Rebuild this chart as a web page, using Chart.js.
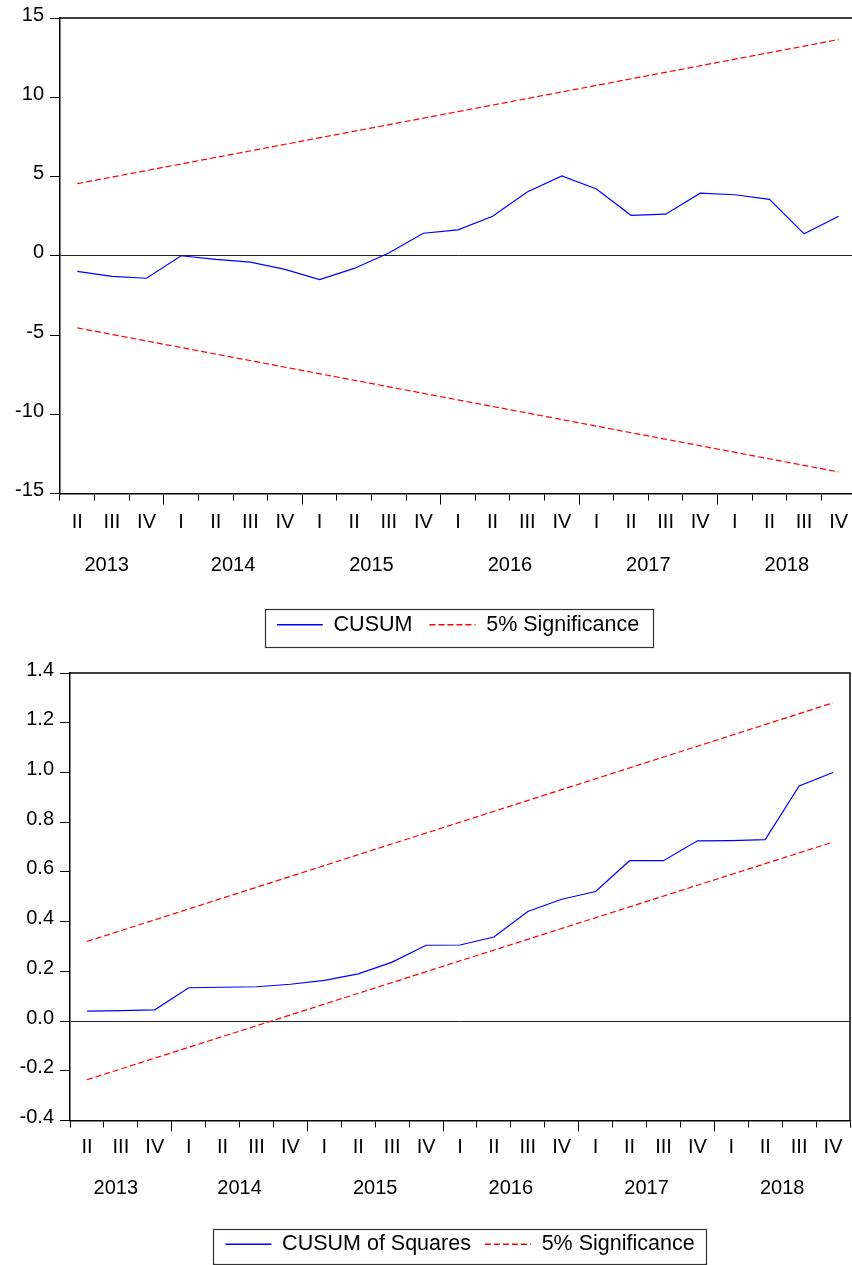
<!DOCTYPE html>
<html>
<head>
<meta charset="utf-8">
<script src="https://cdn.jsdelivr.net/npm/chart.js@4.4.1/dist/chart.umd.min.js"></script>
<style>
html,body{margin:0;padding:0;background:#fff;overflow:hidden;width:852px;height:1265px;}
#c1{position:absolute;left:0;top:0;}
#c2{position:absolute;left:0;top:655px;}
</style>
</head>
<body>
<canvas id="c1" width="860" height="655"></canvas>
<canvas id="c2" width="852" height="620"></canvas>
<script>
// ---- data ----
const quarters = ['II','III','IV','I','II','III','IV','I','II','III','IV','I','II','III','IV','I','II','III','IV','I','II','III','IV'];
const years = ['2013','2014','2015','2016','2017','2018'];
const yearCenters = [0.85, 4.5, 8.5, 12.5, 16.5, 20.5];
const majorTickIdx = [3, 7, 11, 15, 19];

const cusum = [-0.98,-1.30,-1.42,0.00,-0.23,-0.40,-0.86,-1.51,-0.80,0.17,1.42,1.63,2.49,4.02,5.04,4.21,2.55,2.62,3.95,3.85,3.56,1.38,2.49];
const cusumUpper = [4.55,null,null,null,null,null,null,null,null,null,null,null,null,null,null,null,null,null,null,null,null,null,13.64];
const cusumLower = [-4.55,null,null,null,null,null,null,null,null,null,null,null,null,null,null,null,null,null,null,null,null,null,-13.64];

const cusumSq = [0.040,0.042,0.045,0.134,0.136,0.138,0.148,0.164,0.190,0.237,0.305,0.306,0.338,0.441,0.490,0.521,0.645,0.645,0.725,0.726,0.730,0.946,1.000];
const sqUpper = [0.320,null,null,null,null,null,null,null,null,null,null,null,null,null,null,null,null,null,null,null,null,null,1.280];
const sqLower = [-0.236,null,null,null,null,null,null,null,null,null,null,null,null,null,null,null,null,null,null,null,null,null,0.720];

// ---- styling helpers ----
const FONT = {family: '"Liberation Sans", Arial, sans-serif', size: 20};
const LFONT = {family: '"Liberation Sans", Arial, sans-serif', size: 21.5};

const framePlugin = {
  id: 'frame',
  afterDatasetsDraw(chart) {
    const {ctx, chartArea: a} = chart;
    ctx.save();
    ctx.strokeStyle = '#000';
    ctx.lineWidth = 1.5;
    ctx.beginPath();
    ctx.moveTo(a.left, a.top);
    ctx.lineTo(a.right, a.top);
    ctx.lineTo(a.right, a.bottom);
    ctx.stroke();
    ctx.restore();
  }
};

const legendBoxPlugin = {
  id: 'legendBox',
  afterDraw(chart, args, opts) {
    const lg = chart.legend;
    if (!lg || !lg.legendHitBoxes || !lg.legendHitBoxes.length) return;
    const hb = lg.legendHitBoxes;
    let l = Infinity, r = -Infinity;
    hb.forEach(b => { l = Math.min(l, b.left); r = Math.max(r, b.left + b.width); });
    const cy = hb[0].top + hb[0].height / 2;
    const ctx = chart.ctx;
    ctx.save();
    ctx.strokeStyle = '#333';
    ctx.lineWidth = 1.2;
    ctx.strokeRect(Math.round(l - opts.padL) + 0.5, Math.round(cy - opts.up) + 0.5,
                   Math.round(r - l + opts.padL + opts.padR), Math.round(opts.up + opts.down));
    ctx.restore();
  }
};

function makeChart(canvasId, cfg) {
  const datasets = [
    {label: cfg.mainLabel, data: cfg.main, borderColor: '#0000FF', borderWidth: 1.2,
     pointRadius: 0, tension: 0, fill: false},
    {label: '5% Significance', data: cfg.upper, borderColor: '#FF0000', borderWidth: 1.2,
     borderDash: [6, 3], pointRadius: 0, tension: 0, spanGaps: true, fill: false},
    {label: '5% Significance (lower)', data: cfg.lower, borderColor: '#FF0000', borderWidth: 1.2,
     borderDash: [6, 3], pointRadius: 0, tension: 0, spanGaps: true, fill: false}
  ];
  return new Chart(document.getElementById(canvasId), {
    type: 'line',
    data: {labels: quarters, datasets},
    plugins: [framePlugin, legendBoxPlugin],
    options: {
      responsive: false,
      animation: false,
      devicePixelRatio: 1,
      events: [],
      layout: {padding: cfg.padding},
      plugins: {
        tooltip: {enabled: false},
        title: {display: false},
        legend: {
          display: true,
          position: 'bottom',
          fullSize: false,
          labels: {
            font: LFONT,
            color: '#000',
            usePointStyle: true,
            pointStyleWidth: 46,
            padding: cfg.legendPad,
            generateLabels: (chart) => chart.data.datasets.slice(0, 2).map((ds, i) => ({
              text: ds.label,
              fillStyle: 'rgba(0,0,0,0)',
              strokeStyle: ds.borderColor,
              lineWidth: 1.4,
              lineDash: ds.borderDash || [],
              pointStyle: 'line',
              fontColor: '#000',
              hidden: false,
              datasetIndex: i
            }))
          }
        },
        legendBox: cfg.box
      },
      scales: {
        x: {
          type: 'category',
          offset: true,
          weight: 0,
          grid: {
            offset: true,
            drawOnChartArea: false,
            tickLength: 11,
            tickColor: '#000',
            tickWidth: 1,
            tickBorderDash: (c) => (majorTickIdx.includes(c.index) ? [] : [6, 60])
          },
          border: {color: '#000', width: 1.5},
          ticks: {color: '#000', font: FONT, padding: cfg.qPad, autoSkip: false, maxRotation: 0, minRotation: 0},
          afterFit: (s) => { s.height = 45; }
        },
        years: {
          type: 'linear',
          axis: 'x',
          position: 'bottom',
          weight: 1,
          min: -0.5,
          max: 22.5,
          grid: {display: false, drawTicks: false},
          border: {display: false},
          ticks: {color: '#000', font: FONT, padding: cfg.yPad, autoSkip: false, maxRotation: 0, minRotation: 0,
                  callback: (v, i) => years[i]},
          afterBuildTicks: (s) => { s.ticks = yearCenters.map(v => ({value: v})); },
          afterFit: (s) => { s.height = cfg.yearsH; }
        },
        y: {
          min: cfg.ymin,
          max: cfg.ymax,
          ticks: {stepSize: cfg.step, color: '#000', font: FONT, padding: 6, labelOffset: -3,
                  callback: (v) => cfg.fmt(v)},
          grid: {
            color: (c) => (c.tick && Math.abs(c.tick.value) < 1e-9 ? '#222' : 'rgba(0,0,0,0)'),
            lineWidth: 1,
            tickLength: 10,
            tickColor: '#000',
            tickWidth: 1
          },
          border: {color: '#000', width: 1.5},
          afterFit: (s) => { s.width = cfg.yWidth; }
        }
      }
    }
  });
}

makeChart('c1', {
  mainLabel: 'CUSUM',
  main: cusum, upper: cusumUpper, lower: cusumLower,
  ymin: -15, ymax: 15, step: 5,
  fmt: (v) => String(Math.round(v)),
  yWidth: 60,
  padding: {top: 16, right: 4, bottom: 9.5, left: 0},
  qPad: 6, yPad: 15, yearsH: 58.5, legendPad: 17,
  box: {padL: 12, padR: 14, up: 16, down: 22}
});

makeChart('c2', {
  mainLabel: 'CUSUM of Squares',
  main: cusumSq, upper: sqUpper, lower: sqLower,
  ymin: -0.4, ymax: 1.4, step: 0.2,
  fmt: (v) => (Math.abs(v) < 1e-9 ? 0 : v).toFixed(1),
  yWidth: 70,
  padding: {top: 15, right: 2, bottom: 10, left: 0},
  qPad: 4, yPad: 11, yearsH: 54, legendPad: 14,
  box: {padL: 12, padR: 12, up: 15.5, down: 19.5}
});
</script>
</body>
</html>
